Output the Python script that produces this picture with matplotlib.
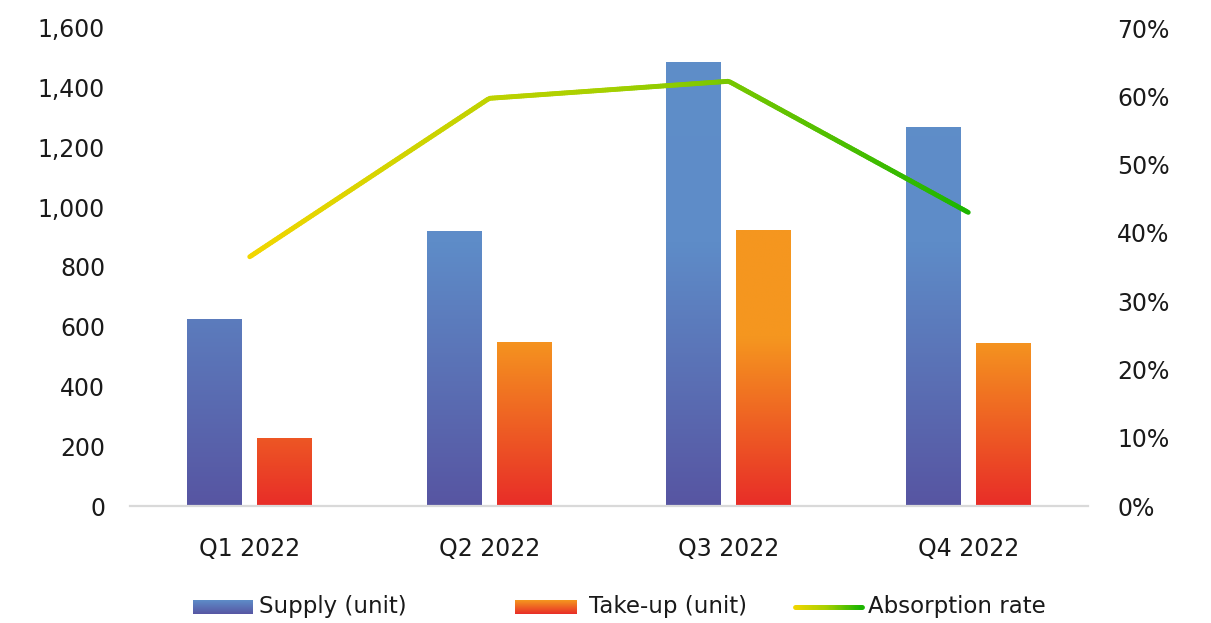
import numpy as np
import matplotlib
matplotlib.use('Agg')
import matplotlib.pyplot as plt
from matplotlib.colors import LinearSegmentedColormap
from matplotlib.collections import LineCollection
from matplotlib.ticker import FuncFormatter, PercentFormatter

# quarterly data
quarters = ['Q1 2022', 'Q2 2022', 'Q3 2022', 'Q4 2022']
supply = [626, 920, 1486, 1268]
take_up = [228, 549, 924, 545]
absorption = [0.365, 0.597, 0.622, 0.430]

blue_cmap = LinearSegmentedColormap.from_list(
    'supply', [(0.0, '#5755a2'), (0.55, '#5e8cc8'), (1.0, '#5f8ec9')])
orange_cmap = LinearSegmentedColormap.from_list(
    'takeup', [(0.0, '#e82d28'), (0.35, '#f5961f'), (1.0, '#f5971f')])
line_cmap = LinearSegmentedColormap.from_list(
    'absorb', ['#f2d600', '#a6d000', '#1db500'])

fig = plt.figure(figsize=(12.11, 6.23), dpi=100)
ax = fig.add_axes([130 / 1211, 1 - 506 / 623, 958 / 1211, 478 / 623])

x = np.arange(len(quarters))
w = 0.228
ymax = 1600


def gradient_bars(xs, heights, cmap):
    bars = ax.bar(xs, heights, w, color='none', edgecolor='none', zorder=2)
    grad = np.linspace(0, 1, 256).reshape(-1, 1)
    for b in bars:
        im = ax.imshow(grad, cmap=cmap, origin='lower', aspect='auto',
                       extent=[b.get_x(), b.get_x() + b.get_width(), 0, ymax],
                       zorder=2, interpolation='bilinear')
        im.set_clip_path(b)
    return bars


gradient_bars(x - 0.146, supply, blue_cmap)
gradient_bars(x + 0.146, take_up, orange_cmap)

ax.set_xlim(-0.5, 3.5)
ax.set_ylim(0, ymax)
ax.set_yticks(np.arange(0, 1601, 200))
ax.yaxis.set_major_formatter(FuncFormatter(lambda v, p: f'{int(v):,}'))
ax.set_xticks(x)
ax.set_xticklabels(quarters)
for s in ['top', 'right', 'left']:
    ax.spines[s].set_visible(False)
ax.spines['bottom'].set_color('#d9d9d9')
ax.spines['bottom'].set_linewidth(1.6)
ax.tick_params(axis='y', length=0, pad=18, labelsize=17, labelcolor='#1a1a1a')
ax.tick_params(axis='x', length=0, pad=22, labelsize=17, labelcolor='#1a1a1a')

# absorption rate on the right axis
ax2 = ax.twinx()
ax2.set_ylim(0, 0.7)
ax2.set_yticks(np.arange(0, 0.71, 0.1))
ax2.yaxis.set_major_formatter(PercentFormatter(1.0, decimals=0))
for s in ax2.spines.values():
    s.set_visible(False)
ax2.tick_params(axis='y', length=0, pad=21, labelsize=17, labelcolor='#1a1a1a')

# split the line into short pieces so it can carry a colour gradient
t = np.linspace(0, len(quarters) - 1, 300)
yt = np.interp(t, x, absorption)
pts = np.column_stack([t, yt]).reshape(-1, 1, 2)
segs = np.concatenate([pts[:-1], pts[1:]], axis=1)
lc = LineCollection(segs, cmap=line_cmap, linewidth=3.5, capstyle='round', zorder=3)
lc.set_array(t[:-1] / t.max())
ax2.add_collection(lc)

# legend drawn in pixel coordinates
lg = fig.add_axes([0, 0, 1, 1], zorder=5)
lg.axis('off')
vgrad = np.linspace(0, 1, 64).reshape(-1, 1)
lg.imshow(vgrad, cmap=LinearSegmentedColormap.from_list('lb', ['#5756a3', '#5e8cc8']),
          origin='lower', extent=[193, 253, 614, 600], aspect='auto')
lg.imshow(vgrad, cmap=LinearSegmentedColormap.from_list('lo', ['#e82d28', '#f5961f']),
          origin='lower', extent=[515, 577, 614, 600], aspect='auto')
lx = np.linspace(795, 862, 60)
lpts = np.column_stack([lx, np.full_like(lx, 607)]).reshape(-1, 1, 2)
lsegs = np.concatenate([lpts[:-1], lpts[1:]], axis=1)
llc = LineCollection(lsegs, cmap=line_cmap, linewidth=3.5, capstyle='round')
llc.set_array(np.linspace(0, 1, len(lsegs)))
lg.add_collection(llc)
lg.set_xlim(0, 1211)
lg.set_ylim(623, 0)
for tx, label in [(259, 'Supply (unit)'), (589, 'Take-up (unit)'), (868, 'Absorption rate')]:
    lg.text(tx, 607, label, fontsize=16.5, color='#1a1a1a', va='center', ha='left')

fig.savefig('out.png', dpi=100, facecolor='white')
